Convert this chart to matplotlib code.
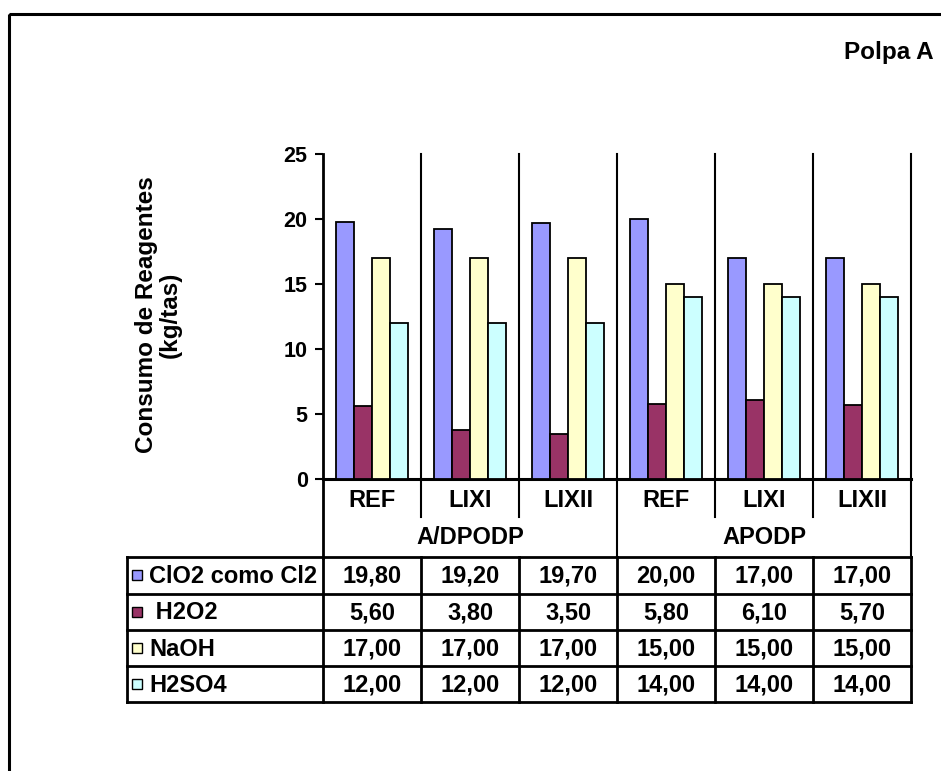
import matplotlib
matplotlib.use("Agg")
import matplotlib.pyplot as plt
from matplotlib.patches import Rectangle

plt.rcParams['font.family'] = ['Liberation Sans', 'DejaVu Sans']
plt.rcParams['font.weight'] = 'bold'

# ---- data ----
treatments = ["REF", "LIXI", "LIXII", "REF", "LIXI", "LIXII"]
sequences = ["A/DPODP", "APODP"]
series_names = ["ClO2 como Cl2", " H2O2", "NaOH", "H2SO4"]
clo2 = [19.80, 19.20, 19.70, 20.00, 17.00, 17.00]
h2o2 = [5.60, 3.80, 3.50, 5.80, 6.10, 5.70]
naoh = [17.00, 17.00, 17.00, 15.00, 15.00, 15.00]
h2so4 = [12.00, 12.00, 12.00, 14.00, 14.00, 14.00]
yticks = [0, 5, 10, 15, 20, 25]

series = [clo2, h2o2, naoh, h2so4]
colors = ["#9999FF", "#993366", "#FFFFCC", "#CCFFFF"]

W, H = 941, 771
fig = plt.figure(figsize=(W / 100, H / 100), dpi=100)
fig.patch.set_facecolor("white")

# plot area in pixels
L, R, T, B = 323, 911, 154, 479
ax = fig.add_axes([L / W, 1 - B / H, (R - L) / W, (B - T) / H])
n = len(treatments)
ax.set_xlim(-0.5, n - 0.5)
ax.set_ylim(0, 25)

bw = 0.185
for j, (vals, col) in enumerate(zip(series, colors)):
    xs = [i + (j - 1.5) * bw for i in range(n)]
    ax.bar(xs, vals, width=bw, color=col, edgecolor="black", linewidth=1.3, zorder=3)

for s in ["top", "right"]:
    ax.spines[s].set_visible(False)
ax.spines["left"].set_linewidth(2)
ax.spines["bottom"].set_linewidth(2.2)
ax.set_yticks(yticks)
ax.set_yticklabels([str(v) for v in yticks], fontsize=15.5, fontweight="bold")
ax.tick_params(axis="y", length=6, width=1.5, pad=5, direction="out")
ax.set_xticks(range(n))
ax.set_xticklabels(treatments, fontsize=17, fontweight="bold")
ax.tick_params(axis="x", length=0, pad=7)

# category separators running below the axis
px_per_frac = (B - T)
xt = ax.get_xaxis_transform()
for k in range(1, n + 1):
    x = k - 0.5
    low = (B - 558) / px_per_frac if k in (3, 6) else (B - 517) / px_per_frac
    ax.plot([x, x], [low, 1.0], color="black", lw=1.5, transform=xt, clip_on=False, zorder=4)
ax.plot([-0.5, -0.5], [(B - 558) / px_per_frac, 0], color="black", lw=2, transform=xt, clip_on=False)

# overlay in pixel coordinates for the data table and frame
ov = fig.add_axes([0, 0, 1, 1], zorder=-1)
ov.set_xlim(0, W)
ov.set_ylim(H, 0)
ov.axis("off")
ov.patch.set_alpha(0)

ov.add_patch(Rectangle((9.5, 14), 1200, 1200, fill=False, lw=2.2, edgecolor="black"))

ov.text(934, 52, "Polpa A", ha="right", va="center", fontsize=17.5, fontweight="bold")
ov.text(158, 315, "Consumo de Reagentes\n(kg/tas)", rotation=90, ha="center", va="center",
        fontsize=17.5, fontweight="bold", linespacing=1.05)

# group labels
cat_w = (R - L) / n
for g, name in enumerate(sequences):
    cx = L + cat_w * 3 * (g + 0.5)
    ov.text(cx, 538, name, ha="center", va="center", fontsize=17, fontweight="bold")

# table grid
row_y = [557, 593.5, 630, 666, 702]
col_x = [L + cat_w * k for k in range(n + 1)]
tl = 127
for y in row_y:
    ov.plot([tl, R], [y, y], color="black", lw=2)
ov.plot([tl, tl], [row_y[0], row_y[-1]], color="black", lw=2)
for x in col_x:
    ov.plot([x, x], [row_y[0], row_y[-1]], color="black", lw=2)

for r, (name, vals, col) in enumerate(zip(series_names, series, colors)):
    cy = (row_y[r] + row_y[r + 1]) / 2
    ov.add_patch(Rectangle((132, cy - 5), 10, 10, facecolor=col, edgecolor="black", lw=1))
    ov.text(149, cy + 1, name, ha="left", va="center", fontsize=17, fontweight="bold")
    for i, v in enumerate(vals):
        cx = (col_x[i] + col_x[i + 1]) / 2
        ov.text(cx, cy + 1, f"{v:.2f}".replace(".", ","), ha="center", va="center",
                fontsize=17, fontweight="bold")

fig.savefig("out.png", dpi=100)
